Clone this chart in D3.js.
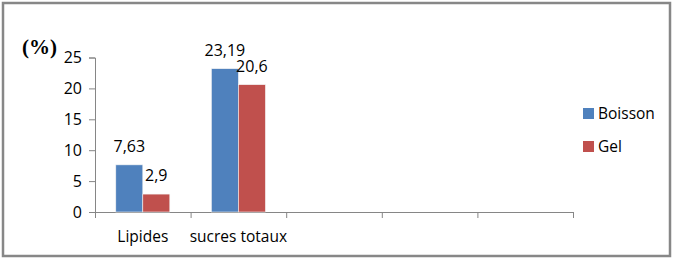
<!DOCTYPE html>
<meta charset="utf-8">
<script src="https://d3js.org/d3.v7.min.js"></script>
<style>
  body { margin: 0; background: #fff; }
  .sans { font-family: "Open Sans", sans-serif; fill: #000; }
</style>
<body>
<div id="chart"></div>
<script>
// data
var categories = ["Lipides", "sucres totaux", "", "", ""];
var series = ["Boisson", "Gel"];
var boisson = [7.63, 23.19, null, null, null];
var gel = [2.9, 20.6, null, null, null];
var valueLabels = [["7,63", "23,19"], ["2,9", "20,6"]];
var yTicks = [0, 5, 10, 15, 20, 25];
var colors = ["#4F81BD", "#C0504D"];

var width = 675, height = 260;
var margin = {top: 57.5, right: 102, bottom: 48, left: 95};

var svg = d3.select("#chart").append("svg")
    .attr("width", width)
    .attr("height", height);

// outer frame
svg.append("rect")
    .attr("x", 3).attr("y", 3)
    .attr("width", 667).attr("height", 253)
    .attr("fill", "none")
    .attr("stroke", "#878787")
    .attr("stroke-width", 2.5);

var g = svg.append("g")
    .attr("transform", "translate(" + margin.left + "," + margin.top + ")");

var w = width - margin.left - margin.right,
    h = height - margin.top - margin.bottom;

var x = d3.scaleBand()
    .domain(d3.range(categories.length))
    .range([0, w]);

var xs = d3.scaleBand()
    .domain(series)
    .range([0, x.bandwidth()])
    .paddingOuter(0.77);

var y = d3.scaleLinear()
    .domain([0, 25])
    .range([h, 0]);

// y axis
var yAxis = g.append("g")
    .call(d3.axisLeft(y).tickValues(yTicks).tickSize(6).tickPadding(7));
yAxis.selectAll("text").attr("class", "sans").attr("font-family", null).style("font-size", "16px");
yAxis.selectAll("line, path").attr("stroke", "#868686");

// x axis: boundary ticks
var xb = d3.scaleLinear().domain([0, categories.length]).range([0, w]);
var xAxis = g.append("g")
    .attr("transform", "translate(0," + h + ")")
    .call(d3.axisBottom(xb).ticks(categories.length).tickSize(6).tickFormat(""));
xAxis.selectAll("line, path").attr("stroke", "#868686");

// category labels
g.selectAll(".cat")
  .data(categories)
  .enter().append("text")
    .attr("class", "sans")
    .attr("x", function(d, i) { return x(i) + x.bandwidth() / 2; })
    .attr("y", h + 30)
    .attr("text-anchor", "middle")
    .style("font-size", "15.5px")
    .text(function(d) { return d; });

// bars
var data = [boisson, gel];
series.forEach(function(s, k) {
  var vals = data[k].map(function(v, i) { return {i: i, v: v}; })
    .filter(function(d) { return d.v != null; });

  g.selectAll(".bar" + k)
    .data(vals)
    .enter().append("rect")
      .attr("x", function(d) { return x(d.i) + xs(s); })
      .attr("y", function(d) { return y(d.v); })
      .attr("width", xs.bandwidth())
      .attr("height", function(d) { return h - y(d.v); })
      .attr("fill", colors[k])
      .attr("stroke", "#f3f3f3")
      .attr("stroke-width", 0.6);

  g.selectAll(".lab" + k)
    .data(vals)
    .enter().append("text")
      .attr("class", "sans")
      .attr("x", function(d) { return x(d.i) + xs(s) + xs.bandwidth() / 2; })
      .attr("y", function(d) { return y(d.v) - 13; })
      .attr("text-anchor", "middle")
      .style("font-size", "16px")
      .text(function(d) { return valueLabels[k][d.i]; });
});

// "(%)" unit label
svg.append("text")
    .attr("x", 22)
    .attr("y", 54)
    .attr("font-family", "'Liberation Serif', 'DejaVu Serif', serif")
    .attr("font-weight", "bold")
    .attr("font-size", 21)
    .attr("fill", "#000")
    .text("(%)");

// legend
var legend = svg.selectAll(".legend")
  .data(series)
  .enter().append("g")
    .attr("transform", function(d, i) { return "translate(583," + (108 + i * 33) + ")"; });

legend.append("rect")
    .attr("width", 11).attr("height", 11)
    .attr("fill", function(d, i) { return colors[i]; });

legend.append("text")
    .attr("class", "sans")
    .attr("x", 15)
    .attr("y", 11)
    .style("font-size", "15.5px")
    .text(function(d) { return d; });
</script>
</body>
